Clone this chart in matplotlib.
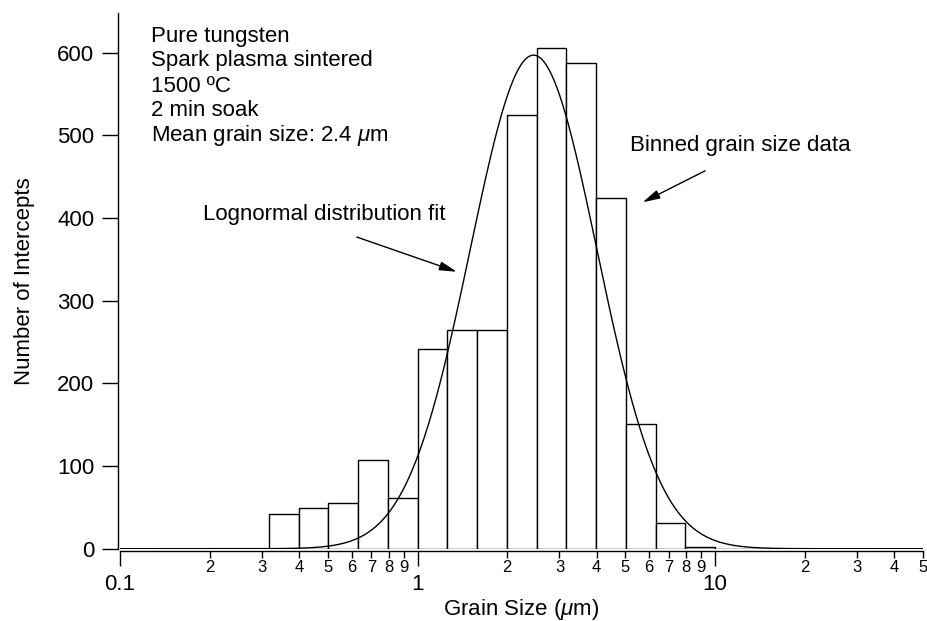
"""
grain size histogram of spark plasma sintered tungsten with lognormal fit
"""
import numpy as np
import matplotlib
matplotlib.use("Agg")
import matplotlib.pyplot as plt

#set font
matplotlib.rc('font', family='Liberation Sans')
matplotlib.rcParams['mathtext.fontset'] = 'custom'
matplotlib.rcParams['mathtext.rm'] = 'Liberation Sans'
matplotlib.rcParams['mathtext.it'] = 'Liberation Sans:italic'

# bins are 0.1 decade wide, from 10^-1.0 up to 10^1.7
bin_exponents = np.arange(-10, 18) / 10
counts = [0, 0, 0, 0, 0, 42, 49, 55, 107, 61,
          241, 265, 264, 525, 606, 587, 424, 151, 31, 2,
          0, 0, 0, 0, 0, 0, 0]

# lognormal fit parameters (peak height, median size in um, sigma of ln x)
fit_peak = 597
fit_median = 2.455
fit_sigma = 0.49

info_lines = ["Pure tungsten", "Spark plasma sintered", "1500 \u00baC",
              "2 min soak", r"Mean grain size: 2.4 $\mu$m"]
major_ticks = [0.1, 1, 10]
major_labels = ["0.1", "1", "10"]
minor_ticks = [0.2, 0.3, 0.4, 0.5, 0.6, 0.7, 0.8, 0.9,
               2, 3, 4, 5, 6, 7, 8, 9, 20, 30, 40, 50]
minor_labels = ["2", "3", "4", "5", "6", "7", "8", "9",
                "2", "3", "4", "5", "6", "7", "8", "9", "2", "3", "4", "5"]

fig = plt.figure(figsize=(9.27, 6.21), dpi=100)
ax = fig.add_axes([120 / 927, 72.3 / 621, 803 / 927, 535.7 / 621])

#histogram bars
edges = 10 ** bin_exponents
ax.bar(edges[:-1], counts, width=np.diff(edges), align='edge',
       facecolor='white', edgecolor='black', linewidth=1.0, zorder=2)

#fit curve
xs = np.logspace(-1, np.log10(50), 600)
ys = fit_peak * np.exp(-(np.log(xs / fit_median)) ** 2 / (2 * fit_sigma ** 2))
ax.plot(xs, ys, color='black', linewidth=1.0, zorder=3)

ax.set_xscale('log')
ax.set_xlim(0.1, 50)
ax.set_ylim(0, 648)

#axes style
for side in ['top', 'right']:
    ax.spines[side].set_visible(False)
for side in ['left', 'bottom']:
    ax.spines[side].set_position(('outward', 1.5))
    ax.spines[side].set_linewidth(1.0)

ax.set_yticks([0, 100, 200, 300, 400, 500, 600])
ax.tick_params(axis='y', direction='out', length=11.5, width=1.0,
               labelsize=16, pad=5.5)
ax.set_xticks(major_ticks)
ax.set_xticklabels(major_labels)
ax.set_xticks(minor_ticks, minor=True)
ax.set_xticklabels(minor_labels, minor=True)
ax.tick_params(axis='x', which='major', direction='out', length=11,
               width=1.0, labelsize=16, pad=6)
ax.tick_params(axis='x', which='minor', direction='out', length=5,
               width=1.0, labelsize=12, pad=1.5)

ax.set_ylabel("Number of Intercepts", fontsize=16, labelpad=16)
ax.set_xlabel(r"Grain Size ($\mu$m)", fontsize=16, labelpad=1)

#info text block
info_y = [612.6, 583.5, 553, 523, 492.7]
for line, y in zip(info_lines, info_y):
    ax.text(0.127, y, line, fontsize=16, va='baseline', ha='left')

#annotations
arrow = dict(arrowstyle='-|>,head_length=0.7,head_width=0.18',
             color='black', lw=1.0, mutation_scale=15, shrinkA=0, shrinkB=0)
ax.text(0.19, 398, "Lognormal distribution fit", fontsize=16, va='baseline')
ax.annotate("", xy=(1.355, 335), xytext=(0.625, 377), arrowprops=arrow)
ax.text(5.18, 481, "Binned grain size data", fontsize=16, va='baseline')
ax.annotate("", xy=(5.71, 419), xytext=(9.25, 457), arrowprops=arrow)

fig.savefig("out.png", dpi=100)
